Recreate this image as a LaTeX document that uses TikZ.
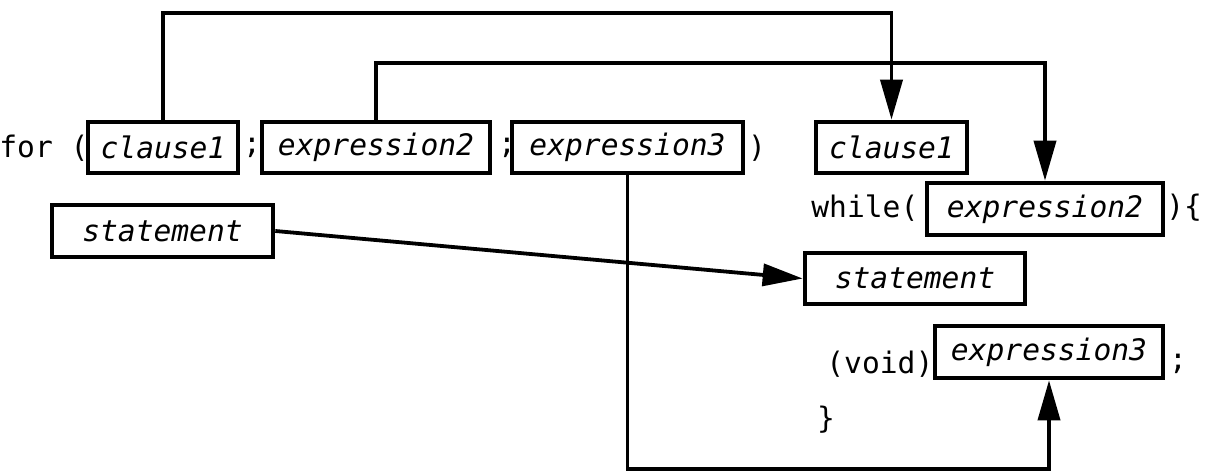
\documentclass[tikz,border=0pt]{standalone}
\usepackage{fontspec}
\setmonofont{DejaVu Sans Mono}
\usetikzlibrary{arrows.meta}

\newcommand{\codefont}{\ttfamily\fontsize{14.8}{17}\selectfont}

\tikzset{
  box/.style={draw, line width=2.3pt, minimum height=25.5pt, inner sep=0pt, font=\codefont\itshape},
  code/.style={inner sep=0pt, font=\codefont},
  link/.style={line width=1.9pt},
  linkarrow/.style={link, -{Triangle[length=20pt,width=11pt]}}
}

\begin{document}
\begin{tikzpicture}[x=0.5pt,y=-0.5pt]
    \useasboundingbox (0,0) rectangle (1211,475);

    %the for loop
    \node[code, anchor=west] (forkw) at (-1,148) {for (};
    \node[box, minimum width=75pt] (clauseA) at (163,147.5) {clause1};
    \node[code] (semiA) at (252,148) {;};
    \node[box, minimum width=114pt] (exprTwoA) at (376,147.5) {expression2};
    \node[code] (semiB) at (507,148) {;};
    \node[box, minimum width=115.5pt] (exprThreeA) at (627.5,147.5) {expression3};
    \node[code] (rparA) at (757,148) {)};
    \node[box, minimum width=110.5pt, minimum height=26pt] (stmtA) at (162.5,231) {statement};

    %the while loop
    \node[box, minimum width=75.5pt] (clauseB) at (891.5,147.5) {clause1};
    \node[code, anchor=west] (whilekw) at (811,208) {while(};
    \node[box, minimum width=118pt, minimum height=26pt] (exprTwoB) at (1045,209) {expression2};
    \node[code, anchor=west] (rbraceB) at (1166,208) {)\{};
    \node[box, minimum width=110pt] (stmtB) at (915,278.5) {statement};
    \node[code, anchor=west] (voidkw) at (826,364) {(void)};
    \node[box, minimum width=114pt, minimum height=26pt] (exprThreeB) at (1049,352) {expression3};
    \node[code] (semiC) at (1178,364) {;};
    \node[code] (closeB) at (826,420) {\}};

    %connectors
    \coordinate (topA) at (0,13);
    \coordinate (topB) at (0,63);
    \coordinate (bottom) at (0,469);

    \draw[linkarrow] (clauseA.north) -- (clauseA.north |- topA) -| (clauseB.north);
    \draw[linkarrow] (exprTwoA.north) -- (exprTwoA.north |- topB) -| (exprTwoB.north);
    \draw[linkarrow] (exprThreeA.south) -- (exprThreeA.south |- bottom) -| (exprThreeB.south);
    \draw[linkarrow] (stmtA.east) -- (stmtB.west);

\end{tikzpicture}
\end{document}
